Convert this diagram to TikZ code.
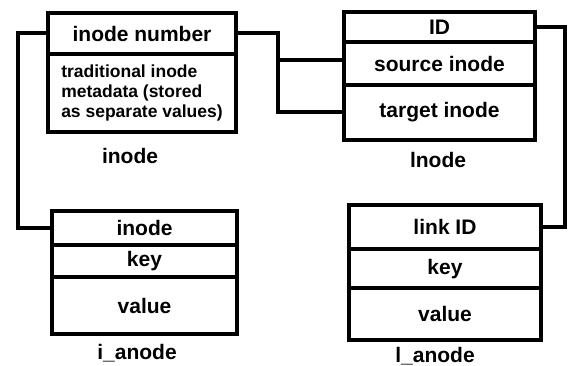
\documentclass[tikz,border=0pt]{standalone}
\usepackage{fontspec}
\setmainfont{Liberation Sans}
\usetikzlibrary{positioning}
\tikzstyle{row}  = [draw,rectangle,line width=4pt,outer sep=0pt,inner sep=0pt,font=\fontsize{21}{24}\selectfont\bfseries]
\tikzstyle{tablelbl} = [inner sep=2pt,font=\fontsize{21}{24}\selectfont\bfseries]
\tikzstyle{link} = [line width=4pt]

\begin{document}
\begin{tikzpicture}[x=1pt,y=-1pt]
\useasboundingbox (0,0) rectangle (568,366);

% inode
\node[row, minimum width=188pt, minimum height=41pt] (num) at (142,33.5) {inode number};
\node[row, minimum width=188pt, minimum height=78pt, align=left, font=\fontsize{17.5}{20}\selectfont\bfseries] (meta) [below=0pt of num] {traditional inode\\metadata (stored\\as separate values)};
\node[tablelbl] (inodelbl) [below=14pt of meta, xshift=-12pt] {inode};

% lnode
\node[row, minimum width=191pt, minimum height=30pt] (id) at (439.5,27.5) {ID};
\node[row, minimum width=191pt, minimum height=42.5pt] (src) [below=0pt of id] {source inode};
\node[row, minimum width=191pt, minimum height=55pt] (tgt) [below=0pt of src] {target inode};
\node[tablelbl] (lnodelbl) [below=10pt of tgt, xshift=-1.5pt] {lnode};

% i_anode
\node[row, minimum width=185pt, minimum height=34.5pt] (iainode) at (144.5,228) {inode};
\node[row, minimum width=185pt, minimum height=31.5pt] (iakey) [below=0pt of iainode] {key};
\node[row, minimum width=185pt, minimum height=57.5pt] (iavalue) [below=0pt of iakey] {value};
\node[tablelbl] (ialbl) [below=7.5pt of iavalue, xshift=-7.5pt] {i\_anode};

% l_anode
\node[row, minimum width=191.5pt, minimum height=44.5pt] (laid) at (445,227) {link ID};
\node[row, minimum width=191.5pt, minimum height=39pt] (lakey) [below=0pt of laid] {key};
\node[row, minimum width=191.5pt, minimum height=52pt] (lavalue) [below=0pt of lakey] {value};
\node[tablelbl] (lalbl) [below=4.5pt of lavalue, xshift=-10pt] {l\_anode};

\coordinate (bus) at ([xshift=-66.5pt, yshift=4pt]src.west);

\draw[link] (num.west) -- ++(-30.5,0) |- (iainode.west);
\draw[link] (num.east) -| ([xshift=-66.5pt]tgt.west) -- (tgt.west);
\draw[link] ([yshift=4pt]src.west) -- (bus);
\draw[link] (id.east) -- ++(30,0) |- (laid.east);

\end{tikzpicture}
\end{document}
